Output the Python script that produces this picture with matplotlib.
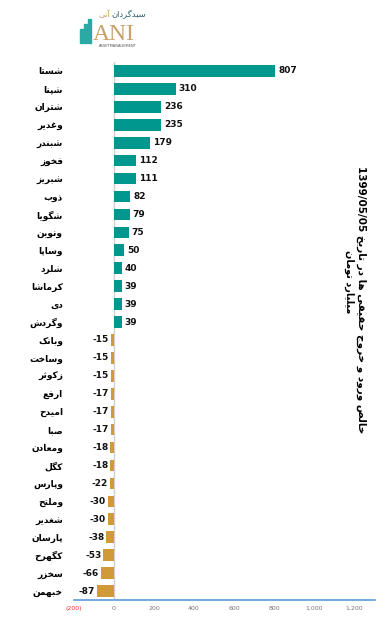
import matplotlib
matplotlib.use("Agg")
import matplotlib.pyplot as plt
from matplotlib.patches import Rectangle

# === DADOS ===
names = ["شستا", "شپنا", "شتران", "وغدیر", "شبندر", "فخوز", "شبریز", "ذوب", "شگویا", "ونوین",
         "وساپا", "شلرد", "کرماشا", "دی", "وگردش", "وبانک", "وساخت", "زکوثر", "ارفع", "امیدح",
         "صبا", "ومعادن", "کگل", "وپارس", "وملتح", "شغدیر", "پارسان", "کگهرح", "سخزر", "خبهمن"]
values = [807, 310, 236, 235, 179, 112, 111, 82, 79, 75,
          50, 40, 39, 39, 39, -15, -15, -15, -17, -17,
          -17, -18, -18, -22, -30, -30, -38, -53, -66, -87]
xticks = [-200, 0, 200, 400, 600, 800, 1000, 1200]
xtick_labels = ["(200)", "0", "200", "400", "600", "800", "1,000", "1,200"]
title_text = "خالص ورود و خروج حقیقی ها در تاریخ"
title_date = "1399/05/05"
unit_text = "میلیارد تومان"

TEAL = "#00978f"
GOLD = "#d09a38"

# === SHAPING ARABE (matplotlib nao liga as letras) ===
FORMS = {
    "ا": (0xFE8D, 0xFE8E, None, None), "آ": (0xFE81, 0xFE82, None, None),
    "ب": (0xFE8F, 0xFE90, 0xFE91, 0xFE92), "پ": (0xFB56, 0xFB57, 0xFB58, 0xFB59),
    "ت": (0xFE95, 0xFE96, 0xFE97, 0xFE98), "ث": (0xFE99, 0xFE9A, 0xFE9B, 0xFE9C),
    "ج": (0xFE9D, 0xFE9E, 0xFE9F, 0xFEA0), "چ": (0xFB7A, 0xFB7B, 0xFB7C, 0xFB7D),
    "ح": (0xFEA1, 0xFEA2, 0xFEA3, 0xFEA4), "خ": (0xFEA5, 0xFEA6, 0xFEA7, 0xFEA8),
    "د": (0xFEA9, 0xFEAA, None, None), "ذ": (0xFEAB, 0xFEAC, None, None),
    "ر": (0xFEAD, 0xFEAE, None, None), "ز": (0xFEAF, 0xFEB0, None, None),
    "ژ": (0xFB8A, 0xFB8B, None, None),
    "س": (0xFEB1, 0xFEB2, 0xFEB3, 0xFEB4), "ش": (0xFEB5, 0xFEB6, 0xFEB7, 0xFEB8),
    "ص": (0xFEB9, 0xFEBA, 0xFEBB, 0xFEBC), "ض": (0xFEBD, 0xFEBE, 0xFEBF, 0xFEC0),
    "ط": (0xFEC1, 0xFEC2, 0xFEC3, 0xFEC4), "ظ": (0xFEC5, 0xFEC6, 0xFEC7, 0xFEC8),
    "ع": (0xFEC9, 0xFECA, 0xFECB, 0xFECC), "غ": (0xFECD, 0xFECE, 0xFECF, 0xFED0),
    "ف": (0xFED1, 0xFED2, 0xFED3, 0xFED4), "ق": (0xFED5, 0xFED6, 0xFED7, 0xFED8),
    "ک": (0xFB8E, 0xFB8F, 0xFB90, 0xFB91), "گ": (0xFB92, 0xFB93, 0xFB94, 0xFB95),
    "ل": (0xFEDD, 0xFEDE, 0xFEDF, 0xFEE0), "م": (0xFEE1, 0xFEE2, 0xFEE3, 0xFEE4),
    "ن": (0xFEE5, 0xFEE6, 0xFEE7, 0xFEE8), "ه": (0xFEE9, 0xFEEA, 0xFEEB, 0xFEEC),
    "و": (0xFEED, 0xFEEE, None, None), "ی": (0xFBFC, 0xFBFD, 0xFBFE, 0xFBFF),
}


def dual(c):
    return c in FORMS and FORMS[c][2] is not None


def fa(text):
    out = []
    for i, c in enumerate(text):
        if c not in FORMS:
            out.append(c)
            continue
        prv = text[i - 1] if i > 0 else None
        nxt = text[i + 1] if i + 1 < len(text) else None
        jp = prv is not None and dual(prv)
        jn = dual(c) and nxt is not None and nxt in FORMS
        iso, fin, ini, med = FORMS[c]
        if jp and jn:
            code = med
        elif jp:
            code = fin
        elif jn:
            code = ini
        else:
            code = iso
        out.append(chr(code))
    return "".join(reversed(out))


# === FIGURA ===
fig = plt.figure(figsize=(3.88, 6.21), dpi=100)
ax = fig.add_axes([74 / 388, 21 / 621, 301 / 388, 538 / 621])

ypos = list(range(len(values)))
cores = [TEAL if v > 0 else GOLD for v in values]
ax.barh(ypos, values, height=0.65, color=cores, zorder=2)

for y, v in zip(ypos, values):
    if v > 0:
        ax.text(v + 14, y, str(v), ha="left", va="center", fontsize=6.5, fontweight="bold", color="#111111")
    else:
        ax.text(v - 10, y, str(v), ha="right", va="center", fontsize=6.5, fontweight="bold", color="#111111")

ax.set_xlim(-200, 1305)
ax.set_ylim(len(values) - 0.5, -0.5)
ax.axvline(0, color="#d0d0d0", lw=1.0, zorder=1)

ax.set_yticks(ypos)
ax.set_yticklabels([fa(n) for n in names], fontsize=6.5, fontweight="bold", family="DejaVu Sans")
ax.tick_params(axis="y", length=0, pad=8)

ax.set_xticks(xticks)
ax.set_xticklabels(xtick_labels, fontsize=4.5, color="#777777")
ax.get_xticklabels()[0].set_color("#ff3333")
ax.tick_params(axis="x", length=0, pad=4)

for s in ["top", "right", "left"]:
    ax.spines[s].set_visible(False)
ax.spines["bottom"].set_color("#5b9bd5")
ax.spines["bottom"].set_linewidth(1.2)

# titulo vertical
fig.text(361 / 388, 1 - 300 / 621, title_date + " " + fa(title_text), rotation=270,
         ha="center", va="center", fontsize=7.5, fontweight="bold")
fig.text(349 / 388, 1 - 282 / 621, fa(unit_text), rotation=270,
         ha="center", va="center", fontsize=7, fontweight="bold")

# logo
for x0, h in [(80, 14), (84, 19), (88, 24)]:
    fig.patches.append(Rectangle((x0 / 388, 1 - 43 / 621), 3 / 388, h / 621,
                                 transform=fig.transFigure, color="#2aa9a5"))
fig.text(93 / 388, 1 - 40 / 621, "ANI", family="Liberation Serif", fontsize=17,
         color="#c9a16a", ha="left", va="baseline")
fig.text(118 / 388, 1 - 47 / 621, "ASSETMANAGEMENT", fontsize=2.6, color="#555555",
         ha="center", va="baseline")
fig.text(146 / 388, 1 - 17 / 621, fa("سبدگردان"), fontsize=6, color="#2b5f6e",
         ha="right", va="baseline")
fig.text(110 / 388, 1 - 17 / 621, fa("آنی"), fontsize=6, color="#c9a16a",
         ha="right", va="baseline")

fig.savefig("out.png", dpi=100)
